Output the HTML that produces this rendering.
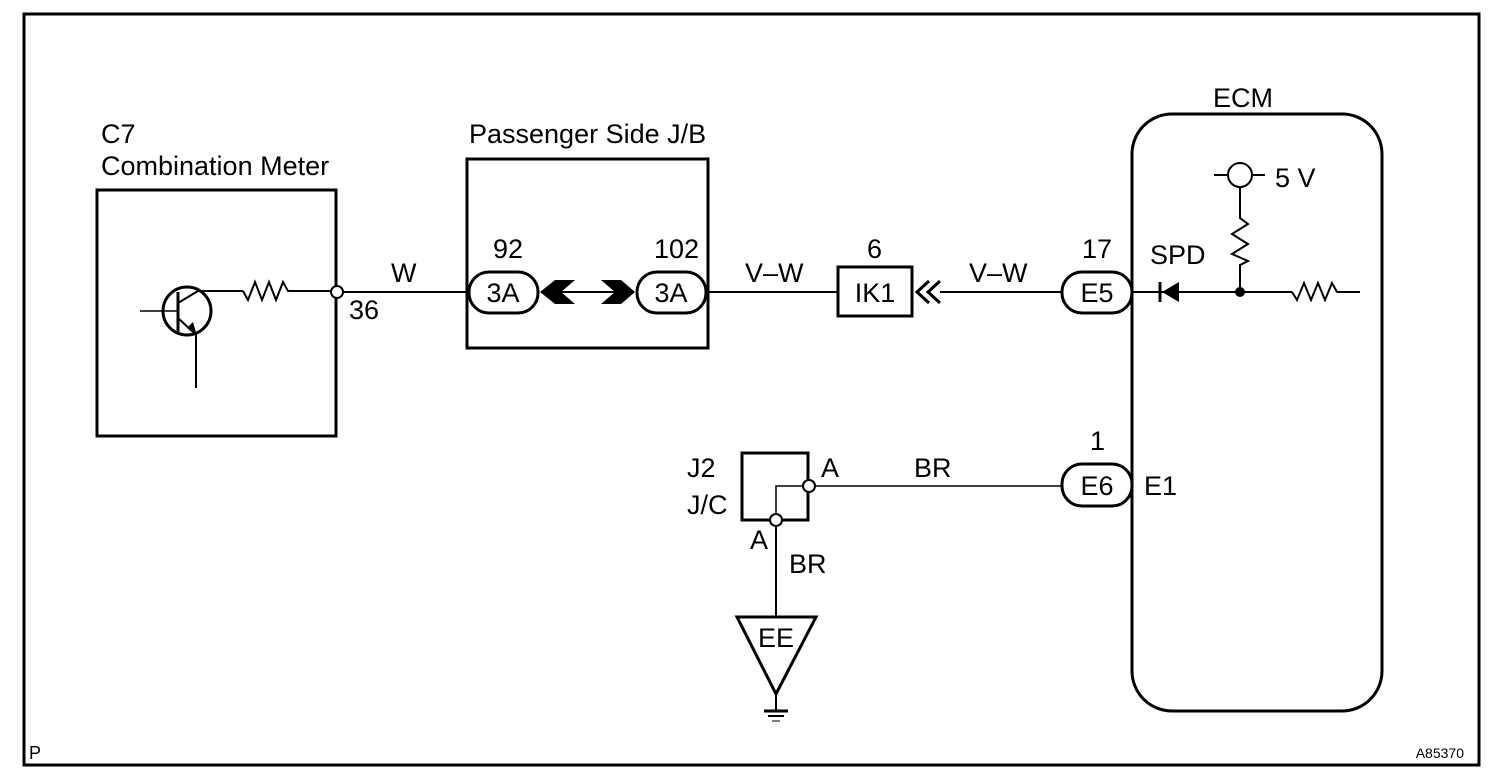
<!DOCTYPE html>
<html><head><meta charset="utf-8"><style>
html,body{margin:0;padding:0;background:#fff;}
svg{display:block;}
text{font-family:"Liberation Sans",sans-serif;font-size:27px;fill:#000;}
</style></head><body>
<svg width="1504" height="782" viewBox="0 0 1504 782" xmlns="http://www.w3.org/2000/svg">
<rect x="0" y="0" width="1504" height="782" fill="#fff"/>
<rect x="24" y="14" width="1455" height="751" fill="none" stroke="#000" stroke-width="3"/>

<!-- C7 -->
<text x="101" y="143">C7</text>
<text x="101" y="175">Combination Meter</text>
<rect x="97" y="190" width="239" height="246" fill="none" stroke="#000" stroke-width="3"/>
<circle cx="187" cy="311" r="24" fill="none" stroke="#000" stroke-width="3"/>
<line x1="140" y1="311" x2="178" y2="311" stroke="#000" stroke-width="1.5"/>
<line x1="178" y1="292" x2="178" y2="334" stroke="#000" stroke-width="3"/>
<polyline points="178,303 198,291 243,291" fill="none" stroke="#000" stroke-width="2"/>
<line x1="178" y1="318" x2="193" y2="332" stroke="#000" stroke-width="2"/>
<polygon points="187,328 197,336 193,322" fill="#000"/>
<line x1="196" y1="334" x2="196" y2="388" stroke="#000" stroke-width="2"/>
<polyline points="243,291 248,300 255,282 262,300 269,282 276,300 283,282 288,291 330,291" fill="none" stroke="#000" stroke-width="2"/>
<circle cx="337" cy="292" r="6" fill="#fff" stroke="#000" stroke-width="2"/>
<line x1="343" y1="292" x2="470" y2="292" stroke="#000" stroke-width="2"/>
<text x="391" y="282">W</text>
<text x="349" y="319">36</text>

<!-- J/B -->
<text x="469" y="143">Passenger Side J/B</text>
<rect x="467" y="159" width="241" height="189" fill="none" stroke="#000" stroke-width="3"/>
<rect x="469" y="272" width="69" height="41" rx="20" fill="#fff" stroke="#000" stroke-width="3"/>
<text x="503" y="302" text-anchor="middle">3A</text>
<text x="493" y="258">92</text>
<rect x="637" y="272" width="69" height="41" rx="20" fill="#fff" stroke="#000" stroke-width="3"/>
<text x="671" y="302" text-anchor="middle">3A</text>
<text x="654" y="258">102</text>
<line x1="560" y1="292" x2="620" y2="292" stroke="#000" stroke-width="2"/>
<polygon points="540,292 555,280 575,280 561,292 575,304 555,304" fill="#000"/>
<polygon points="601,280 621,280 635,292 621,304 601,304 615,292" fill="#000"/>
<line x1="706" y1="292" x2="838" y2="292" stroke="#000" stroke-width="2"/>
<text x="745" y="282">V–W</text>

<!-- IK1 -->
<rect x="838" y="267" width="74" height="49" fill="#fff" stroke="#000" stroke-width="3"/>
<text x="875" y="302" text-anchor="middle">IK1</text>
<text x="867" y="258">6</text>
<polyline points="929,281 917,292 929,303" fill="none" stroke="#000" stroke-width="3"/>
<polyline points="940,281 928,292 940,303" fill="none" stroke="#000" stroke-width="3"/>
<line x1="940" y1="292" x2="1062" y2="292" stroke="#000" stroke-width="2"/>
<text x="969" y="282">V–W</text>

<!-- ECM -->
<text x="1213" y="107">ECM</text>
<rect x="1132" y="114" width="250" height="597" rx="40" fill="none" stroke="#000" stroke-width="3"/>
<rect x="1062" y="272" width="70" height="41" rx="20" fill="#fff" stroke="#000" stroke-width="3"/>
<text x="1097" y="302" text-anchor="middle">E5</text>
<text x="1082" y="258">17</text>
<line x1="1132" y1="292" x2="1240" y2="292" stroke="#000" stroke-width="2"/>
<polygon points="1162,292 1179,282 1179,302" fill="#000"/>
<line x1="1160" y1="282" x2="1160" y2="302" stroke="#000" stroke-width="3"/>
<text x="1150" y="264">SPD</text>
<circle cx="1240" cy="292" r="5" fill="#000"/>
<line x1="1240" y1="292" x2="1292" y2="292" stroke="#000" stroke-width="2"/>
<polyline points="1292,292 1297,300 1304,283 1311,300 1318,283 1325,300 1332,283 1337,292 1360,292" fill="none" stroke="#000" stroke-width="2"/>
<line x1="1214" y1="175" x2="1265" y2="175" stroke="#000" stroke-width="2"/>
<circle cx="1240" cy="175" r="12" fill="#fff" stroke="#000" stroke-width="2"/>
<text x="1275" y="187">5 V</text>
<polyline points="1240,187 1240,218 1248,224 1232,234 1248,244 1232,254 1248,261 1240,265 1240,292" fill="none" stroke="#000" stroke-width="2"/>

<rect x="1062" y="464" width="70" height="42" rx="20" fill="#fff" stroke="#000" stroke-width="3"/>
<text x="1097" y="495" text-anchor="middle">E6</text>
<text x="1090" y="450">1</text>
<text x="1144" y="495">E1</text>

<!-- J2 -->
<text x="687" y="477">J2</text>
<text x="687" y="514">J/C</text>
<rect x="742" y="453" width="66" height="67" fill="none" stroke="#000" stroke-width="3"/>
<polyline points="808,486 776,486 776,520" fill="none" stroke="#000" stroke-width="1.5"/>
<line x1="815" y1="486" x2="1062" y2="486" stroke="#000" stroke-width="1.5"/>
<circle cx="809" cy="486" r="6" fill="#fff" stroke="#000" stroke-width="2"/>
<circle cx="776" cy="520" r="6" fill="#fff" stroke="#000" stroke-width="2"/>
<text x="821" y="477">A</text>
<text x="914" y="477">BR</text>
<text x="750" y="549">A</text>
<text x="789" y="573">BR</text>
<line x1="776" y1="526" x2="776" y2="616" stroke="#000" stroke-width="2"/>
<polygon points="737,617 816,617 776,694" fill="#fff" stroke="#000" stroke-width="3"/>
<text x="776" y="647" text-anchor="middle">EE</text>
<line x1="776" y1="694" x2="776" y2="710" stroke="#000" stroke-width="2"/>
<line x1="764" y1="711" x2="788" y2="711" stroke="#000" stroke-width="3"/>
<line x1="768" y1="716" x2="784" y2="716" stroke="#000" stroke-width="2"/>
<line x1="772" y1="721" x2="780" y2="721" stroke="#000" stroke-width="1"/>

<text x="29" y="759" style="font-size:18px">P</text>
<text x="1464" y="758" text-anchor="end" style="font-size:14px">A85370</text>
</svg>
</body></html>
